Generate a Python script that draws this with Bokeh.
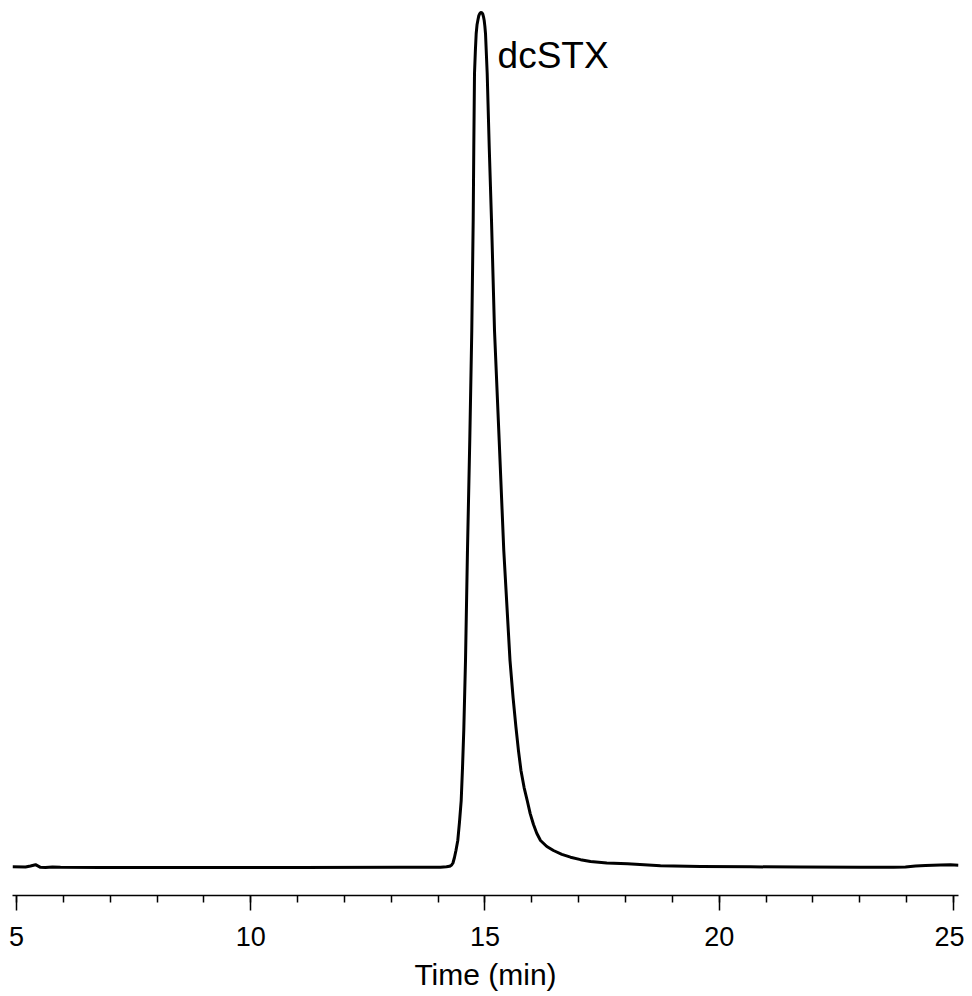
from bokeh.plotting import figure
from bokeh.models import FixedTicker, Range1d, Label
from bokeh.embed import file_html
from bokeh.resources import INLINE

# Chromatogram trace (time in min, relative signal with peak = 100)
time_min = [4.915, 5.192, 5.299, 5.406, 5.512, 5.619, 5.768, 5.939, 6.793, 8.927,
            11.062, 13.196, 14.050, 14.178, 14.243, 14.284, 14.316, 14.348, 14.380,
            14.419, 14.455, 14.492, 14.520, 14.547, 14.584, 14.626, 14.675, 14.718, 14.748,
            14.761, 14.776, 14.795, 14.812, 14.831, 14.851, 14.867, 14.883, 14.900, 14.919,
            14.936, 14.953, 14.968, 14.983, 14.997, 15.011,
            15.047, 15.090, 15.139, 15.203, 15.303, 15.401, 15.534, 15.600, 15.660, 15.715, 15.768,
            15.835, 15.901, 15.965, 16.035, 16.105, 16.185, 16.320, 16.462, 16.640, 16.825,
            17.040, 17.252, 17.600, 18.042, 18.746, 19.600,
            20.667, 21.734, 23.015, 23.719, 23.975, 24.189, 24.402, 24.722, 24.936,
            25.107]
signal = [0.02, 0.00, 0.12, 0.27, -0.04, -0.05, 0.01, -0.04, -0.05, -0.05,
          -0.05, -0.04, -0.03, 0.02, 0.08, 0.20, 0.47, 1.11, 1.93,
          3.10, 5.21, 7.78, 11.60, 15.97, 24.16, 37.04, 49.91, 62.78, 75.66,
          84.32, 92.86, 95.60, 97.54, 98.60, 99.18, 99.60, 99.82, 99.96, 100.0,
          99.95, 99.82, 99.50, 99.06, 98.40, 97.54,
          92.86, 84.32, 75.66, 62.78, 49.91, 37.04, 24.16, 19.80, 16.40, 13.60, 11.29,
          9.30, 7.78, 6.25, 4.97, 3.95, 3.10, 2.40, 1.93, 1.48, 1.15,
          0.86, 0.64, 0.48, 0.37, 0.14, 0.06,
          0.02, 0.00, -0.02, -0.02, 0.00, 0.12, 0.18, 0.23, 0.27,
          0.20]

major_ticks = [5, 10, 15, 20, 25]
minor_ticks = list(range(5, 26))
peak_name = "dcSTX"
x_title = "Time (min)"

p = figure(width=964, height=994, output_backend="svg", toolbar_location=None,
           x_range=Range1d(4.9146, 25.107), y_range=Range1d(-3.335, 100.234),
           y_axis_location=None, min_border_left=12, min_border_right=6,
           min_border_top=10, min_border_bottom=99)

p.line(time_min, signal, line_color="black", line_width=3, line_join="round")

# peak label
i_peak = signal.index(max(signal))
p.add_layout(Label(x=time_min[i_peak] + 0.35, y=signal[i_peak] * 0.95, text=peak_name,
                   text_font="Liberation Sans", text_font_size="37px",
                   text_baseline="alphabetic", text_align="left", text_color="black"))

p.grid.visible = False
p.outline_line_color = None
p.background_fill_color = "white"
p.border_fill_color = "white"

ax = p.xaxis[0]
ax.ticker = FixedTicker(ticks=major_ticks, minor_ticks=minor_ticks)
ax.axis_line_color = "black"
ax.axis_line_width = 1.5
ax.major_tick_line_color = "black"
ax.major_tick_line_width = 1.5
ax.major_tick_in = 0
ax.major_tick_out = 15
ax.minor_tick_line_color = "black"
ax.minor_tick_line_width = 1.5
ax.minor_tick_in = 0
ax.minor_tick_out = 7
ax.major_label_text_font = "Liberation Sans"
ax.major_label_text_font_size = "27px"
ax.major_label_text_color = "black"
ax.major_label_standoff = 16
ax.axis_label = x_title
ax.axis_label_text_font = "Liberation Sans"
ax.axis_label_text_font_size = "30px"
ax.axis_label_text_font_style = "normal"
ax.axis_label_text_color = "black"
ax.axis_label_standoff = 9

open("out.html", "w").write(file_html(p, INLINE))
